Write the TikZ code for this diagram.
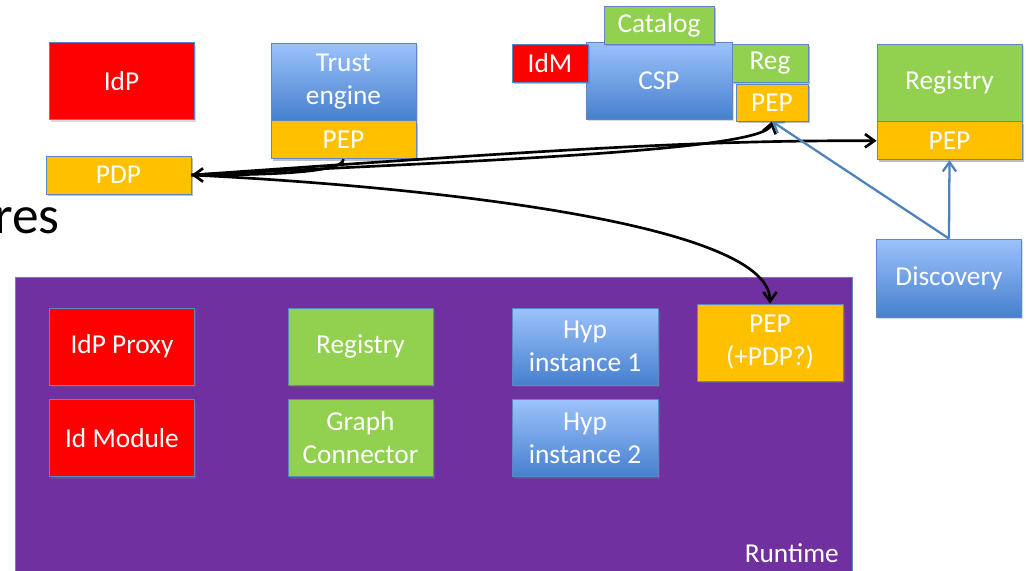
\documentclass[tikz,border=0pt]{standalone}
\usepackage{fontspec}
\setmainfont{Carlito}
\usepackage{tikz}
\usetikzlibrary{arrows.meta,shadows,positioning}
\definecolor{idred}{HTML}{FF0000}
\definecolor{reggreen}{HTML}{92D050}
\definecolor{pepyellow}{HTML}{FFC000}
\definecolor{runpurple}{HTML}{7030A0}
\definecolor{linkblue}{HTML}{4F81BD}
\definecolor{edgeblue}{HTML}{5B87C5}
\definecolor{lightblue}{HTML}{9CC2FB}
\definecolor{darkblue}{HTML}{4680CE}
\newcommand{\px}{0.75pt}
\newcommand{\boxfont}{\fontsize{20.5}{24.75}\selectfont}

\tikzset{
  comp/.style={draw=edgeblue, line width=0.6pt, text=white, align=center,
    font=\boxfont, inner sep=0pt, minimum width=145*\px, minimum height=77*\px,
    drop shadow={opacity=0.3, shadow xshift=1.2pt, shadow yshift=-1.5pt}},
  half/.style={comp, minimum height=38*\px},
  redbox/.style={comp, fill=idred},
  greenbox/.style={comp, fill=reggreen},
  bluebox/.style={comp, top color=lightblue, bottom color=darkblue},
  pepbox/.style={comp, fill=pepyellow},
  ctrl/.style={line width=2pt, -{Straight Barb[length=7pt,width=10pt]}},
  disc/.style={linkblue, line width=1.7pt, -{Straight Barb[length=7pt,width=10pt]}}
}

\begin{document}
\begin{tikzpicture}[x=0.75pt, y=-0.75pt]
\useasboundingbox (0,0) rectangle (1026,571);
\node[anchor=base east, inner sep=0pt, font=\fontsize{40}{48}\selectfont] (title) at (60, 233) {res};
% top row
\node[redbox] (idp) at (121.5, 81) {IdP};
\node[bluebox] (trust) at (343.5, 81.5) {Trust\\engine};
\node[pepbox, half, below=0pt of trust] (tepep) {PEP};
\node[pepbox, half] (pdp) at (118.5, 175) {PDP};
% CSP
\node[bluebox, minimum width=146*\px] (csp) at (659, 80.5) {CSP};
\node[greenbox, half, minimum width=110*\px] (catalog) at (659, 25) {Catalog};
\node[redbox, half, minimum width=76*\px] (idm) at (550, 63) {IdM};
\node[greenbox, half, minimum width=76*\px] (reg) at (770, 63) {Reg};
\node[pepbox, half, minimum width=72*\px, minimum height=37*\px] (csppep) at (772, 102.5) {PEP};
% registry + discovery
\node[greenbox] (registry) at (949.5, 82.5) {Registry};
\node[pepbox, half, below=0pt of registry] (regpep) {PEP};
\node[bluebox, minimum height=78*\px] (discovery) at (949, 278) {Discovery};
% runtime
\fill[runpurple, draw=edgeblue, line width=0.6pt] (15, 571) -- (15, 277) -- (852, 277) -- (852, 571);
\node[anchor=base east, inner sep=0pt, text=white, font=\boxfont] (rtlabel) at (839, 562) {Runtime};
\node[redbox] (idproxy) at (122, 346.5) {IdP Proxy};
\node[redbox] (idmodule) at (122, 438) {Id Module};
\node[greenbox] (rtregistry) at (360.5, 346.5) {Registry};
\node[greenbox] (graphconn) at (360.5, 438) {Graph\\Connector};
\node[bluebox, minimum width=146*\px] (hyp1) at (585, 346.5) {Hyp\\instance 1};
\node[bluebox, minimum width=146*\px] (hyp2) at (585, 438) {Hyp\\instance 2};
\node[pepbox, minimum width=146*\px] (rtpep) at (770, 342.5) {PEP\\(+PDP?)};
% connectors
\draw[ctrl] (tepep.south) .. controls +(0, 14) and +(70, 0) .. (pdp.east);
\draw[ctrl] (pdp.east) .. controls (500, 160) and (765, 150) .. (csppep.south);
\draw[ctrl] (pdp.east) .. controls (550, 150) and (700, 140) .. (regpep.west);
\draw[ctrl] (pdp.east) .. controls (400, 185) and (770, 220) .. (rtpep.north);
\draw[disc] (discovery.north) -- (regpep.south);
\draw[disc] (discovery.north) -- (csppep.south);
\end{tikzpicture}
\end{document}
